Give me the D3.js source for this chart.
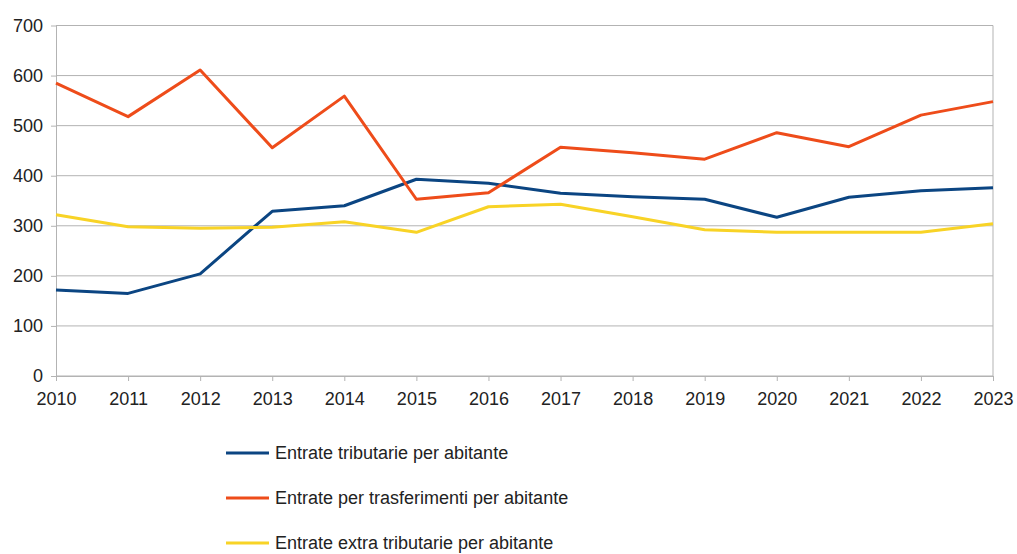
<!DOCTYPE html>
<html>
<head>
<meta charset="utf-8">
<script src="https://cdn.jsdelivr.net/npm/d3@7"></script>
<style>
  body { margin: 0; background: #fff; }
  text { font-family: "Liberation Sans", Arial, sans-serif; }
</style>
</head>
<body>
<script>
// data
const years = [2010, 2011, 2012, 2013, 2014, 2015, 2016, 2017, 2018, 2019, 2020, 2021, 2022, 2023];
const tributarie = [172, 165, 204, 329, 340, 393, 385, 365, 358, 353, 317, 357, 370, 376];
const trasferimenti = [585, 518, 611, 456, 559, 353, 366, 457, 446, 433, 486, 458, 521, 548];
const extraTributarie = [322, 298, 295, 297, 308, 287, 338, 343, 318, 292, 287, 287, 287, 304];
const seriesNames = ["Entrate tributarie per abitante", "Entrate per trasferimenti per abitante", "Entrate extra tributarie per abitante"];
const yTicks = [0, 100, 200, 300, 400, 500, 600, 700];

const series = [
  {name: seriesNames[0], values: tributarie, color: "#0b4582"},
  {name: seriesNames[1], values: trasferimenti, color: "#ee4c1a"},
  {name: seriesNames[2], values: extraTributarie, color: "#f8d326"}
];

var margin = {top: 25.5, left: 56},
  width = 993 - 56,
  height = 376 - 25.5;

let svg = d3.select("body").append("svg")
  .attr("width", 1017)
  .attr("height", 554);

let g = svg.append("g")
  .attr("transform", "translate(" + margin.left + "," + margin.top + ")");

var x = d3.scaleLinear()
  .domain([2010, 2023])
  .range([0, width]);

var y = d3.scaleLinear()
  .domain([0, 700])
  .range([height, 0]);

// grid
g.append("g")
  .selectAll("line")
  .data(yTicks)
  .enter()
  .append("line")
  .attr("x1", 0)
  .attr("x2", width)
  .attr("y1", d => y(d))
  .attr("y2", d => y(d))
  .style("stroke", "#b3b3b3")
  .style("stroke-width", 1);

// right border
g.append("line")
  .attr("x1", width).attr("x2", width)
  .attr("y1", 0).attr("y2", height)
  .style("stroke", "#b3b3b3");

// axes
let xAxis = g.append("g")
  .attr("transform", "translate(0," + height + ")")
  .call(d3.axisBottom(x).tickValues(years).tickFormat(d3.format("d")).tickSize(5).tickSizeOuter(0));

let yAxis = g.append("g")
  .call(d3.axisLeft(y).tickValues(yTicks).tickSize(5).tickSizeOuter(0));

[xAxis, yAxis].forEach(a => {
  a.select(".domain").style("stroke", "#b3b3b3");
  a.selectAll(".tick line").style("stroke", "#b3b3b3");
  a.selectAll(".tick text")
    .style("font-size", "18px")
    .style("fill", "#222")
    .style("font-family", '"Liberation Sans", Arial, sans-serif');
});
xAxis.selectAll(".tick text").attr("dy", "0.9em").attr("y", 13);
yAxis.selectAll(".tick text").attr("x", -13);

// lines
let line = d3.line()
  .x((d, i) => x(years[i]))
  .y(d => y(d));

g.append("g")
  .selectAll("path")
  .data(series)
  .enter()
  .append("path")
  .attr("d", d => line(d.values))
  .style("fill", "none")
  .style("stroke", d => d.color)
  .style("stroke-width", 3)
  .style("stroke-linejoin", "round");

// legend
let legend = svg.append("g")
  .selectAll("g")
  .data(series)
  .enter()
  .append("g")
  .attr("transform", (d, i) => "translate(226," + (453 + i * 45) + ")");

legend.append("line")
  .attr("x1", 0).attr("x2", 43)
  .style("stroke", d => d.color)
  .style("stroke-width", 3);

legend.append("text")
  .attr("x", 49)
  .attr("dy", "0.35em")
  .style("font-size", "18px")
  .style("fill", "#222")
  .text(d => d.name);
</script>
</body>
</html>
